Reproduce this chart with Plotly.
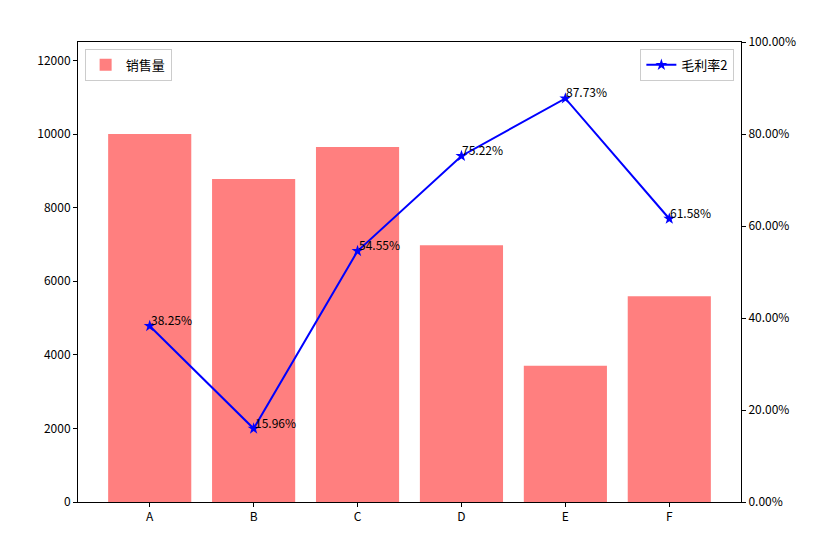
import plotly.graph_objects as go

categories = ["A", "B", "C", "D", "E", "F"]
sales = [10000, 8780, 9650, 6980, 3700, 5590]
margin_rate = [0.3825, 0.1596, 0.5455, 0.7522, 0.8773, 0.6158]
margin_labels = ["38.25%", "15.96%", "54.55%", "75.22%", "87.73%", "61.58%"]

FONT = "Noto Sans CJK SC, SimHei, sans-serif"

fig = go.Figure()
fig.add_trace(go.Bar(
    x=categories, y=sales, name="销售量",
    marker=dict(color="rgba(255,0,0,0.5)", line=dict(width=0)),
    width=0.8, legend="legend", showlegend=True,
))
fig.add_trace(go.Scatter(
    x=categories, y=margin_rate, name="毛利率2", yaxis="y2",
    mode="lines+markers",
    line=dict(color="blue", width=2),
    marker=dict(symbol="star", size=9, color="blue"),
    legend="legend2", showlegend=True,
))

for c, v, t in zip(categories, margin_rate, margin_labels):
    fig.add_annotation(
        x=c, y=v, yref="y2", text=t, showarrow=False,
        xanchor="left", yanchor="bottom", yshift=-4, xshift=-1,
        font=dict(family=FONT, size=12, color="black"),
    )

axis_common = dict(
    showgrid=False, zeroline=False, showline=True, linecolor="black", linewidth=1,
    ticks="outside", ticklen=4, tickcolor="black",
    tickfont=dict(family=FONT, size=12, color="black"),
)

fig.update_layout(
    width=816, height=556,
    margin=dict(l=78, r=75, t=42, b=54),
    plot_bgcolor="white", paper_bgcolor="white",
    font=dict(family=FONT, size=12, color="black"),
    showlegend=True,
    bargap=0.2,
    xaxis=dict(**axis_common, range=[-0.69, 5.69], mirror=True),
    yaxis=dict(**axis_common, range=[0, 12500], tickformat="d",
               tickvals=[0, 2000, 4000, 6000, 8000, 10000, 12000]),
    yaxis2=dict(**axis_common, overlaying="y", side="right", range=[0, 1],
                tickvals=[0, 0.2, 0.4, 0.6, 0.8, 1.0], tickformat=".2%"),
    legend=dict(x=0.01, y=0.985, xanchor="left", yanchor="top",
                bordercolor="#cccccc", borderwidth=1, bgcolor="rgba(255,255,255,0.8)",
                font=dict(family=FONT, size=13)),
    legend2=dict(x=0.99, y=0.985, xanchor="right", yanchor="top",
                 bordercolor="#cccccc", borderwidth=1, bgcolor="rgba(255,255,255,0.8)",
                 font=dict(family=FONT, size=13)),
)

fig.write_html("out.html")
